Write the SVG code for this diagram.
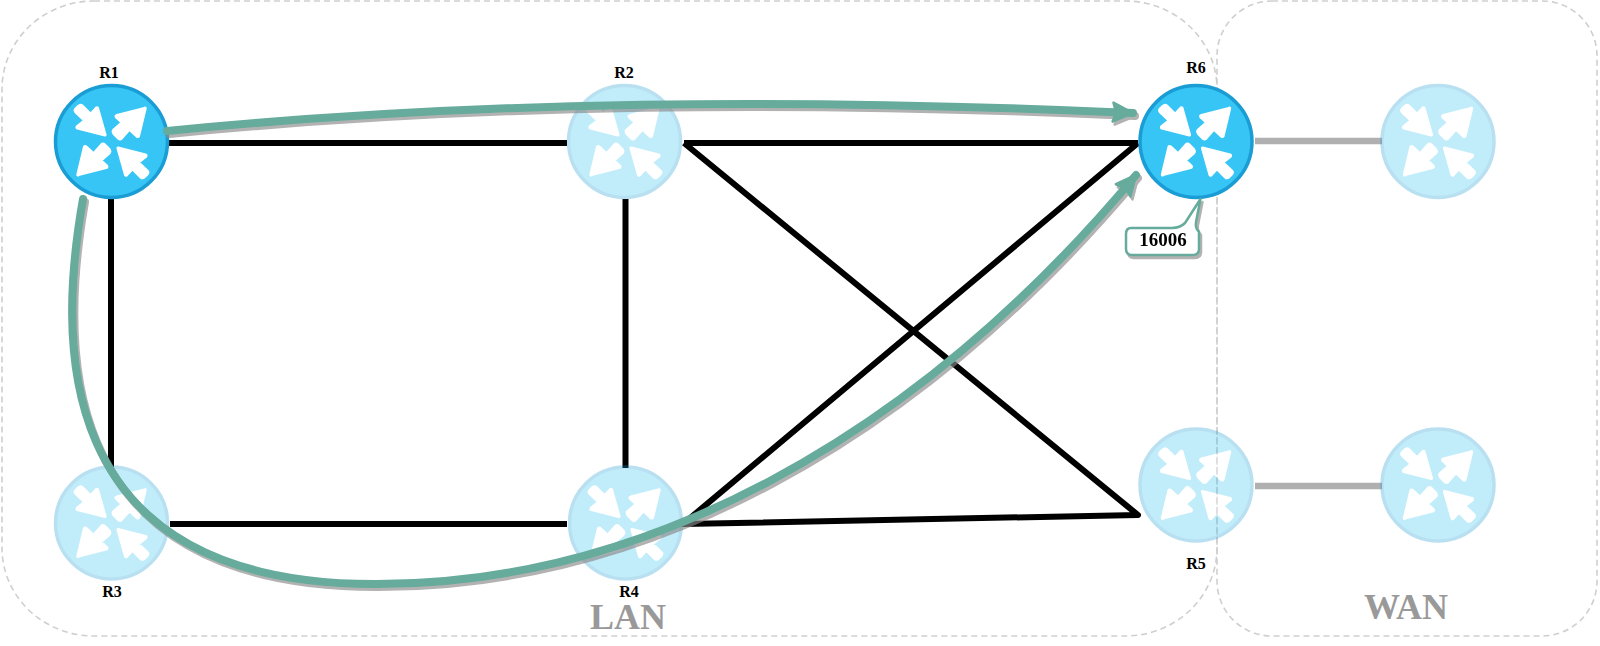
<svg xmlns="http://www.w3.org/2000/svg" width="1600" height="646" viewBox="0 0 1600 646">
<style>
.area{fill:none;stroke:#cfcfcf;stroke-width:1.6;stroke-dasharray:6 4}
.link{stroke:#000;stroke-width:6;fill:none;stroke-linejoin:round}
.wan{stroke:#b0b0b0;stroke-width:6.5;fill:none}
.flow{stroke:#66ab9c;stroke-width:8;fill:none;stroke-linecap:round}
.disc{fill:#36c5f5;stroke:#1a9cd4;stroke-width:3.5}
.ic{fill:#fff;stroke:#fff;stroke-width:3.2;stroke-linejoin:round}
.faded{opacity:.3}
.lbl{font-family:"Liberation Serif",serif;font-weight:bold;font-size:16px;fill:#000;text-anchor:middle}
.zone{font-family:"Liberation Serif",serif;font-weight:bold;font-size:36px;fill:#999;text-anchor:middle}
.call{font-family:"Liberation Serif",serif;font-weight:bold;font-size:19px;fill:#000;text-anchor:middle}
</style>
<defs>
<filter id="sh" x="-5%" y="-20%" width="110%" height="140%"><feDropShadow dx="2" dy="3" stdDeviation="0.7" flood-color="#888" flood-opacity=".65"/></filter>
<marker id="ah" markerUnits="userSpaceOnUse" markerWidth="30" markerHeight="30" refX="22" refY="11" orient="auto" overflow="visible">
<path d="M2,1.5 L22,11 L2,20.5 L5,11 Z" fill="#66ab9c" stroke="#66ab9c" stroke-width="2.5" stroke-linejoin="round"/>
</marker>
<g id="rt">
<path id="a1" class="ic" d="M-6.5,-6.5L-34,-13.5Q-35,-14 -34,-15L-26.5,-21L-35.5,-29.5Q-37,-31 -35.5,-32.5L-33,-35Q-31,-37 -29.5,-35.5L-21,-27L-15,-33.5Q-14,-34 -14,-33Z"/>
<use href="#a1" transform="rotate(180)"/>
<path id="a2" class="ic" d="M33,-33Q34,-34 33.5,-32.5L27,-5.5Q26.5,-4.5 25.5,-5.5L18,-12.5L10,-3.5Q8.5,-2 7,-3.5L2.5,-8Q1,-10 2.5,-11.5L11,-19L5,-24.5Q4,-25.5 5.5,-26Z"/>
<use href="#a2" transform="rotate(180)"/>
</g>
<g id="router"><circle class="disc" r="56"/><use href="#rt"/></g>
</defs>

<g id="zones">
<rect id="lan" class="area" x="2" y="1" width="1215" height="635" rx="92" ry="88"/>
<rect id="wanzone" class="area" x="1217" y="1" width="380" height="635" rx="55" ry="55"/>
</g>

<g id="connectors">
<path class="link" d="M169,143H567"/>
<path class="link" d="M111,199V467"/>
<path class="link" d="M170,524H567"/>
<path class="link" d="M684,143H1138"/>
<path class="link" d="M625.5,199V468"/>
<path class="link" d="M684,143L1138,515L683,524L1138,143"/>
<path class="wan" d="M1255,141H1382"/>
<path class="wan" d="M1255,486H1382"/>
</g>

<g id="R1"><use href="#router" transform="translate(111.5,141.5)"/><text class="lbl" x="109" y="78">R1</text></g>
<g id="R2"><use class="faded" href="#router" transform="translate(624.5,141.5)"/><text class="lbl" x="624" y="78">R2</text></g>
<g id="R3"><use class="faded" href="#router" transform="translate(111.5,523)"/><text class="lbl" x="112" y="597">R3</text></g>
<g id="R4"><use class="faded" href="#router" transform="translate(625.5,523)"/><text class="lbl" x="629" y="597">R4</text></g>
<g id="R5"><use class="faded" href="#router" transform="translate(1196,485)"/><text class="lbl" x="1196" y="569">R5</text></g>
<g id="R6"><use href="#router" transform="translate(1196,141.5)"/><text class="lbl" x="1196" y="73">R6</text></g>
<g id="R7"><use class="faded" href="#router" transform="translate(1438,141.5)"/></g>
<g id="R8"><use class="faded" href="#router" transform="translate(1438,485)"/></g>

<g id="flows" filter="url(#sh)">
<path class="flow" d="M167,131C480,100 800,98 1133,113" marker-end="url(#ah)"/>
<path class="flow" d="M83,199C60,330 42,585 377,584C640,584 910,445 1136,175" marker-end="url(#ah)"/>
</g>

<g id="callout" filter="url(#sh)">
<path d="M1131,228H1172Q1180,228 1185,223L1200.5,199L1196,222Q1195,228 1199,232V249Q1199,255 1193,255H1132Q1126,255 1126,249V234Q1126,228 1131,228Z" fill="#fff" stroke="#66ab9c" stroke-width="2.5" stroke-linejoin="round"/>
<text class="call" x="1163" y="246">16006</text>
</g>

<text class="zone" x="628" y="629">LAN</text>
<text class="zone" x="1406" y="619">WAN</text>
</svg>
